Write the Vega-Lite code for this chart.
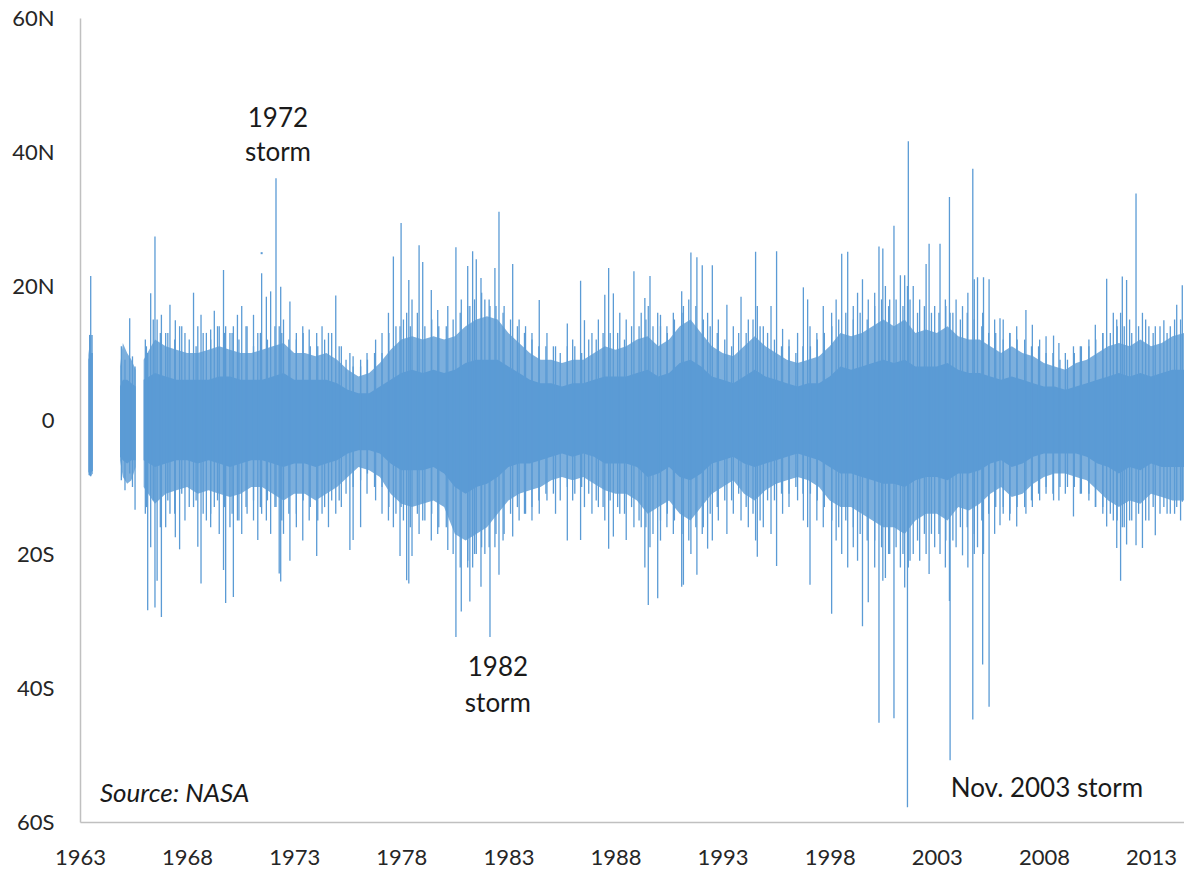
{
  "$schema": "https://vega.github.io/schema/vega-lite/v6.json",
  "width": 1104,
  "height": 804,
  "autosize": {"type": "none"},
  "padding": {"left": 80, "top": 18, "right": 0, "bottom": 47},
  "background": "white",
  "config": {"view": {"stroke": null}, "font": "Lato"},
  "datasets": {
    "env": [
      {"seg":"a","t":1963.39,"fh":9.7,"fl":-8.2,"ch":9,"cl":-7.8},
      {"seg":"a","t":1963.5,"fh":12.7,"fl":-8.4,"ch":10,"cl":-8},
      {"seg":"a","t":1963.6,"fh":12.7,"fl":-8,"ch":10,"cl":-7.5},
      {"seg":"b","t":1964.87,"fh":8,"fl":-6,"ch":5,"cl":-5.5},
      {"seg":"b","t":1965.0,"fh":11.5,"fl":-8.5,"ch":6,"cl":-6},
      {"seg":"b","t":1965.2,"fh":10,"fl":-9.5,"ch":6,"cl":-6.5},
      {"seg":"b","t":1965.4,"fh":9,"fl":-9,"ch":5.5,"cl":-6},
      {"seg":"b","t":1965.6,"fh":7.5,"fl":-7,"ch":5,"cl":-6},
      {"seg":"c","t":1965.97,"fh":9,"fl":-10,"ch":6,"cl":-6},
      {"seg":"c","t":1966.5,"fh":12,"fl":-12.5,"ch":7,"cl":-7},
      {"seg":"c","t":1967.0,"fh":11,"fl":-11,"ch":6.5,"cl":-6.5},
      {"seg":"c","t":1967.5,"fh":10.5,"fl":-10.5,"ch":6,"cl":-6},
      {"seg":"c","t":1968.0,"fh":10,"fl":-10,"ch":6,"cl":-6},
      {"seg":"c","t":1968.5,"fh":10,"fl":-11,"ch":6,"cl":-6.5},
      {"seg":"c","t":1969.0,"fh":10.5,"fl":-10.5,"ch":6,"cl":-6},
      {"seg":"c","t":1969.5,"fh":11,"fl":-11,"ch":6.5,"cl":-6.5},
      {"seg":"c","t":1970.0,"fh":10.5,"fl":-11.5,"ch":6.5,"cl":-7},
      {"seg":"c","t":1970.5,"fh":10,"fl":-11,"ch":6,"cl":-6.5},
      {"seg":"c","t":1971.0,"fh":10,"fl":-10,"ch":6,"cl":-6},
      {"seg":"c","t":1971.5,"fh":10.5,"fl":-10,"ch":6,"cl":-6},
      {"seg":"c","t":1972.0,"fh":11,"fl":-11,"ch":6.5,"cl":-6.5},
      {"seg":"c","t":1972.5,"fh":11.5,"fl":-12,"ch":7,"cl":-7},
      {"seg":"c","t":1973.0,"fh":10,"fl":-11,"ch":6,"cl":-6.5},
      {"seg":"c","t":1973.5,"fh":10,"fl":-11,"ch":6,"cl":-6.5},
      {"seg":"c","t":1974.0,"fh":9.5,"fl":-12,"ch":6,"cl":-7},
      {"seg":"c","t":1974.5,"fh":10,"fl":-11,"ch":6,"cl":-6.5},
      {"seg":"c","t":1975.0,"fh":9,"fl":-10,"ch":5.5,"cl":-6},
      {"seg":"c","t":1975.5,"fh":7.5,"fl":-8.5,"ch":4.5,"cl":-5},
      {"seg":"c","t":1976.0,"fh":6.5,"fl":-7,"ch":4,"cl":-4.5},
      {"seg":"c","t":1976.5,"fh":7,"fl":-7.5,"ch":4,"cl":-4.5},
      {"seg":"c","t":1977.0,"fh":8.5,"fl":-8.5,"ch":5,"cl":-5},
      {"seg":"c","t":1977.5,"fh":10.5,"fl":-11,"ch":6,"cl":-6.5},
      {"seg":"c","t":1978.0,"fh":12,"fl":-12.5,"ch":7,"cl":-7.5},
      {"seg":"c","t":1978.5,"fh":12.5,"fl":-13,"ch":7.5,"cl":-7.5},
      {"seg":"c","t":1979.0,"fh":12,"fl":-12.5,"ch":7,"cl":-7.5},
      {"seg":"c","t":1979.5,"fh":12.5,"fl":-12,"ch":7.5,"cl":-7},
      {"seg":"c","t":1980.0,"fh":12,"fl":-13,"ch":7,"cl":-8},
      {"seg":"c","t":1980.5,"fh":12.5,"fl":-17,"ch":7.5,"cl":-10},
      {"seg":"c","t":1981.0,"fh":14,"fl":-18,"ch":8.5,"cl":-11},
      {"seg":"c","t":1981.5,"fh":15,"fl":-17,"ch":9,"cl":-10},
      {"seg":"c","t":1982.0,"fh":15.5,"fl":-16,"ch":9,"cl":-9.5},
      {"seg":"c","t":1982.5,"fh":15,"fl":-14,"ch":9,"cl":-8.5},
      {"seg":"c","t":1983.0,"fh":13,"fl":-12,"ch":8,"cl":-7},
      {"seg":"c","t":1983.5,"fh":11.5,"fl":-11,"ch":7,"cl":-6.5},
      {"seg":"c","t":1984.0,"fh":10,"fl":-10.5,"ch":6,"cl":-6.5},
      {"seg":"c","t":1984.5,"fh":9,"fl":-10,"ch":5.5,"cl":-6},
      {"seg":"c","t":1985.0,"fh":9,"fl":-9,"ch":5.5,"cl":-5.5},
      {"seg":"c","t":1985.5,"fh":8.5,"fl":-8.5,"ch":5,"cl":-5},
      {"seg":"c","t":1986.0,"fh":9,"fl":-9,"ch":5.5,"cl":-5.5},
      {"seg":"c","t":1986.5,"fh":9,"fl":-8.5,"ch":5.5,"cl":-5},
      {"seg":"c","t":1987.0,"fh":10,"fl":-9.5,"ch":6,"cl":-5.5},
      {"seg":"c","t":1987.5,"fh":11,"fl":-10.5,"ch":6.5,"cl":-6.5},
      {"seg":"c","t":1988.0,"fh":10.5,"fl":-11,"ch":6.5,"cl":-6.5},
      {"seg":"c","t":1988.5,"fh":11,"fl":-11,"ch":6.5,"cl":-6.5},
      {"seg":"c","t":1989.0,"fh":12,"fl":-12,"ch":7,"cl":-7},
      {"seg":"c","t":1989.5,"fh":12.5,"fl":-14,"ch":7.5,"cl":-8.5},
      {"seg":"c","t":1990.0,"fh":11,"fl":-13,"ch":6.5,"cl":-8},
      {"seg":"c","t":1990.5,"fh":12,"fl":-12,"ch":7,"cl":-7},
      {"seg":"c","t":1991.0,"fh":14,"fl":-14,"ch":8.5,"cl":-8.5},
      {"seg":"c","t":1991.5,"fh":15,"fl":-15,"ch":9,"cl":-9},
      {"seg":"c","t":1992.0,"fh":13,"fl":-13,"ch":8,"cl":-8},
      {"seg":"c","t":1992.5,"fh":11,"fl":-11,"ch":6.5,"cl":-6.5},
      {"seg":"c","t":1993.0,"fh":10,"fl":-10,"ch":6,"cl":-6},
      {"seg":"c","t":1993.5,"fh":9.5,"fl":-9,"ch":5.5,"cl":-5.5},
      {"seg":"c","t":1994.0,"fh":11,"fl":-11,"ch":6.5,"cl":-6.5},
      {"seg":"c","t":1994.5,"fh":12.5,"fl":-12,"ch":7.5,"cl":-7},
      {"seg":"c","t":1995.0,"fh":11,"fl":-10.5,"ch":6.5,"cl":-6.5},
      {"seg":"c","t":1995.5,"fh":10,"fl":-9.5,"ch":6,"cl":-6},
      {"seg":"c","t":1996.0,"fh":9,"fl":-9,"ch":5.5,"cl":-5.5},
      {"seg":"c","t":1996.5,"fh":8.5,"fl":-8.5,"ch":5,"cl":-5},
      {"seg":"c","t":1997.0,"fh":9,"fl":-9,"ch":5.5,"cl":-5.5},
      {"seg":"c","t":1997.5,"fh":9.5,"fl":-10,"ch":5.5,"cl":-6},
      {"seg":"c","t":1998.0,"fh":11,"fl":-12,"ch":6.5,"cl":-7},
      {"seg":"c","t":1998.5,"fh":13,"fl":-13,"ch":8,"cl":-8},
      {"seg":"c","t":1999.0,"fh":12.5,"fl":-13,"ch":7.5,"cl":-8},
      {"seg":"c","t":1999.5,"fh":13,"fl":-14,"ch":8,"cl":-8.5},
      {"seg":"c","t":2000.0,"fh":14,"fl":-15,"ch":8.5,"cl":-9},
      {"seg":"c","t":2000.5,"fh":15,"fl":-16,"ch":9,"cl":-9.5},
      {"seg":"c","t":2001.0,"fh":14,"fl":-16,"ch":8.5,"cl":-9.5},
      {"seg":"c","t":2001.5,"fh":15,"fl":-17,"ch":9,"cl":-10},
      {"seg":"c","t":2002.0,"fh":13,"fl":-15,"ch":8,"cl":-9},
      {"seg":"c","t":2002.5,"fh":13.5,"fl":-14,"ch":8,"cl":-8.5},
      {"seg":"c","t":2003.0,"fh":13,"fl":-14,"ch":8,"cl":-8.5},
      {"seg":"c","t":2003.5,"fh":14,"fl":-15,"ch":8.5,"cl":-9},
      {"seg":"c","t":2004.0,"fh":12.5,"fl":-13,"ch":7.5,"cl":-8},
      {"seg":"c","t":2004.5,"fh":12,"fl":-13.5,"ch":7,"cl":-8},
      {"seg":"c","t":2005.0,"fh":12,"fl":-12.5,"ch":7,"cl":-7.5},
      {"seg":"c","t":2005.5,"fh":11,"fl":-11,"ch":6.5,"cl":-6.5},
      {"seg":"c","t":2006.0,"fh":10,"fl":-10,"ch":6,"cl":-6},
      {"seg":"c","t":2006.5,"fh":11,"fl":-11.5,"ch":6.5,"cl":-7},
      {"seg":"c","t":2007.0,"fh":10,"fl":-11,"ch":6,"cl":-6.5},
      {"seg":"c","t":2007.5,"fh":9.5,"fl":-9.5,"ch":5.5,"cl":-5.5},
      {"seg":"c","t":2008.0,"fh":8.5,"fl":-8.5,"ch":5,"cl":-5},
      {"seg":"c","t":2008.5,"fh":8,"fl":-8,"ch":5,"cl":-5},
      {"seg":"c","t":2009.0,"fh":7.5,"fl":-8,"ch":4.5,"cl":-5},
      {"seg":"c","t":2009.5,"fh":8.5,"fl":-8.5,"ch":5,"cl":-5},
      {"seg":"c","t":2010.0,"fh":9,"fl":-9,"ch":5.5,"cl":-5.5},
      {"seg":"c","t":2010.5,"fh":10,"fl":-10.5,"ch":6,"cl":-6.5},
      {"seg":"c","t":2011.0,"fh":11,"fl":-12,"ch":6.5,"cl":-7},
      {"seg":"c","t":2011.5,"fh":11.5,"fl":-13,"ch":7,"cl":-8},
      {"seg":"c","t":2012.0,"fh":11,"fl":-12,"ch":6.5,"cl":-7},
      {"seg":"c","t":2012.5,"fh":12,"fl":-12.5,"ch":7,"cl":-7.5},
      {"seg":"c","t":2013.0,"fh":11,"fl":-11,"ch":6.5,"cl":-6.5},
      {"seg":"c","t":2013.5,"fh":11.5,"fl":-11.5,"ch":7,"cl":-7},
      {"seg":"c","t":2014.0,"fh":12.5,"fl":-12,"ch":7.5,"cl":-7},
      {"seg":"c","t":2014.55,"fh":13,"fl":-12,"ch":7.5,"cl":-7}
    ],
    "spk": [
      {"t":1963.45,"h":12.7,"l":-8.2},{"t":1963.5,"h":21.5,"l":-8.4},
      {"t":1964.93,"h":11,"l":-9},{"t":1965.1,"h":9,"l":-10.5},{"t":1965.32,"h":15.2,"l":-8},{"t":1965.45,"h":9.5,"l":-10},{"t":1965.57,"h":8,"l":-13.4},
      {"t":1966.05,"h":12,"l":-14},{"t":1966.16,"h":10,"l":-28.4},{"t":1966.3,"h":18.9,"l":-19},{"t":1966.5,"h":27.4,"l":-28},{"t":1966.6,"h":15,"l":-24},{"t":1966.8,"h":15.7,"l":-29.4},
      {"t":1967.0,"h":13,"l":-16},{"t":1967.2,"h":17.2,"l":-14},{"t":1967.45,"h":14.9,"l":-17.5},{"t":1967.65,"h":14,"l":-19.3},{"t":1967.9,"h":13,"l":-15},
      {"t":1968.3,"h":19,"l":-13},{"t":1968.5,"h":14,"l":-18.9},{"t":1968.65,"h":15.7,"l":-24.4},{"t":1968.9,"h":13,"l":-15},
      {"t":1969.1,"h":13.5,"l":-16},{"t":1969.27,"h":16.3,"l":-13},{"t":1969.5,"h":14,"l":-17},{"t":1969.7,"h":22.4,"l":-22.4},{"t":1969.8,"h":14,"l":-27.3},
      {"t":1970.0,"h":13,"l":-16},{"t":1970.16,"h":14,"l":-26.4},{"t":1970.35,"h":15.7,"l":-15},{"t":1970.55,"h":17,"l":-17},{"t":1970.8,"h":14,"l":-14},
      {"t":1971.1,"h":15.7,"l":-15},{"t":1971.3,"h":13,"l":-17.9},{"t":1971.48,"h":21.9,"l":-14},{"t":1971.7,"h":18.4,"l":-15},{"t":1971.9,"h":19.2,"l":-17},
      {"t":1972.15,"h":36.1,"l":-13},{"t":1972.3,"h":14,"l":-22.9},{"t":1972.37,"h":19.9,"l":-24.1},{"t":1972.5,"h":15,"l":-17},{"t":1972.8,"h":17.7,"l":-21},
      {"t":1973.1,"h":13,"l":-16},{"t":1973.4,"h":14,"l":-18},{"t":1973.7,"h":13.5,"l":-15},
      {"t":1974.05,"h":13,"l":-20.3},{"t":1974.3,"h":14,"l":-14},{"t":1974.6,"h":13,"l":-16},{"t":1974.94,"h":18.6,"l":-14},
      {"t":1975.2,"h":11,"l":-13},{"t":1975.6,"h":10,"l":-19.4},{"t":1975.75,"h":9.5,"l":-17.9},
      {"t":1976.1,"h":9,"l":-16},{"t":1976.4,"h":10,"l":-11},{"t":1976.8,"h":12,"l":-12},
      {"t":1977.1,"h":13,"l":-14},{"t":1977.4,"h":16,"l":-15},{"t":1977.63,"h":24.4,"l":-16},{"t":1977.94,"h":14,"l":-20.3},{"t":1977.99,"h":29.4,"l":-13},
      {"t":1978.25,"h":16,"l":-23.9},{"t":1978.35,"h":20.9,"l":-24.4},{"t":1978.5,"h":18,"l":-20.3},{"t":1978.83,"h":26.1,"l":-17},
      {"t":1979.0,"h":23.6,"l":-15},{"t":1979.4,"h":19.4,"l":-18},{"t":1979.7,"h":16.4,"l":-17},
      {"t":1980.17,"h":17,"l":-19.4},{"t":1980.55,"h":25.8,"l":-32.4},{"t":1980.8,"h":18,"l":-28.6},
      {"t":1981.1,"h":23,"l":-22},{"t":1981.2,"h":17,"l":-27.1},{"t":1981.33,"h":25.2,"l":-22},{"t":1981.5,"h":24,"l":-20},{"t":1981.72,"h":21.2,"l":-24.9},{"t":1981.9,"h":18,"l":-20},
      {"t":1982.14,"h":17,"l":-32.4},{"t":1982.37,"h":22.7,"l":-19},{"t":1982.56,"h":31.1,"l":-23.1},{"t":1982.8,"h":17,"l":-17},
      {"t":1983.2,"h":23.3,"l":-17.4},{"t":1983.5,"h":15,"l":-15},{"t":1983.8,"h":14,"l":-14},
      {"t":1984.1,"h":13,"l":-15},{"t":1984.44,"h":17.9,"l":-14},{"t":1984.8,"h":13,"l":-12},
      {"t":1985.2,"h":11,"l":-14},{"t":1985.75,"h":14.4,"l":-18},
      {"t":1986.0,"h":12,"l":-12},{"t":1986.37,"h":20.8,"l":-17.9},{"t":1986.55,"h":14.9,"l":-13},{"t":1986.9,"h":13,"l":-14},
      {"t":1987.2,"h":15,"l":-13},{"t":1987.5,"h":18.7,"l":-15},{"t":1987.68,"h":22.7,"l":-19.2},{"t":1987.9,"h":18.9,"l":-17.4},
      {"t":1988.2,"h":16,"l":-14},{"t":1988.5,"h":15,"l":-17.9},{"t":1988.86,"h":22.2,"l":-16},
      {"t":1989.2,"h":16,"l":-16},{"t":1989.37,"h":18.2,"l":-22},{"t":1989.53,"h":17,"l":-27.6},{"t":1989.61,"h":21.5,"l":-19},{"t":1989.97,"h":16,"l":-26.6},
      {"t":1990.1,"h":15.7,"l":-18},{"t":1990.4,"h":14,"l":-16},{"t":1990.7,"h":16,"l":-17},
      {"t":1991.09,"h":19.2,"l":-24.9},{"t":1991.17,"h":17,"l":-24.6},{"t":1991.52,"h":25,"l":-20},{"t":1991.8,"h":24.3,"l":-23.1},
      {"t":1992.05,"h":23.1,"l":-17},{"t":1992.3,"h":16,"l":-19.2},{"t":1992.52,"h":23.1,"l":-18},{"t":1992.8,"h":15,"l":-15},
      {"t":1993.2,"h":17.2,"l":-17},{"t":1993.5,"h":14,"l":-14},{"t":1993.86,"h":18.4,"l":-15},
      {"t":1994.2,"h":15,"l":-16},{"t":1994.54,"h":25.1,"l":-18},{"t":1994.62,"h":17,"l":-20.4},{"t":1994.9,"h":14,"l":-16},
      {"t":1995.26,"h":17,"l":-17},{"t":1995.52,"h":25.2,"l":-21.8},{"t":1995.8,"h":13.6,"l":-14},
      {"t":1996.1,"h":12,"l":-13},{"t":1996.5,"h":13,"l":-12},{"t":1996.77,"h":19.8,"l":-15},{"t":1996.97,"h":18,"l":-16},
      {"t":1997.08,"h":14,"l":-24.6},{"t":1997.4,"h":13,"l":-15},{"t":1997.7,"h":17,"l":-16},
      {"t":1998.09,"h":16,"l":-28.9},{"t":1998.3,"h":18,"l":-18},{"t":1998.56,"h":24.8,"l":-20},{"t":1998.84,"h":25.1,"l":-22},
      {"t":1999.1,"h":17,"l":-19},{"t":1999.3,"h":19,"l":-21},{"t":1999.53,"h":21,"l":-30.8},{"t":1999.8,"h":18,"l":-27.2},
      {"t":2000.1,"h":19,"l":-22},{"t":2000.3,"h":25.9,"l":-45.2},{"t":2000.48,"h":25.6,"l":-24},{"t":2000.6,"h":20,"l":-23.6},{"t":2000.8,"h":18,"l":-20},
      {"t":2001.0,"h":29,"l":-44.5},{"t":2001.3,"h":21.6,"l":-22},{"t":2001.5,"h":21.6,"l":-25},{"t":2001.63,"h":20,"l":-57.8},{"t":2001.67,"h":41.6,"l":-22},{"t":2001.9,"h":20,"l":-20},
      {"t":2002.2,"h":18,"l":-21},{"t":2002.5,"h":23.3,"l":-20},{"t":2002.64,"h":26.3,"l":-23},{"t":2002.9,"h":17,"l":-19},
      {"t":2003.15,"h":26.3,"l":-20},{"t":2003.4,"h":18,"l":-22},{"t":2003.59,"h":33.3,"l":-27},{"t":2003.62,"h":16,"l":-50.8},{"t":2003.9,"h":18,"l":-19},
      {"t":2004.2,"h":17,"l":-20.2},{"t":2004.45,"h":19,"l":-22},{"t":2004.68,"h":37.5,"l":-44.7},{"t":2004.75,"h":21,"l":-20},{"t":2004.9,"h":21.3,"l":-19},
      {"t":2005.14,"h":16,"l":-36.5},{"t":2005.18,"h":21.3,"l":-20},{"t":2005.44,"h":21,"l":-42.8},{"t":2005.7,"h":15,"l":-17},{"t":2005.95,"h":15.2,"l":-15.7},
      {"t":2006.1,"h":15,"l":-14},{"t":2006.4,"h":13,"l":-15},{"t":2006.73,"h":14,"l":-15.9},
      {"t":2007.16,"h":16.4,"l":-14},{"t":2007.46,"h":14.2,"l":-13},{"t":2007.8,"h":12,"l":-12},
      {"t":2008.1,"h":12.5,"l":-11},{"t":2008.45,"h":12.6,"l":-12},{"t":2008.7,"h":11.5,"l":-12},
      {"t":2009.0,"h":10,"l":-11},{"t":2009.38,"h":11,"l":-14.4},{"t":2009.7,"h":11,"l":-11},
      {"t":2010.1,"h":12,"l":-12},{"t":2010.4,"h":14.2,"l":-13},{"t":2010.75,"h":13,"l":-14},{"t":2010.93,"h":21.1,"l":-15.9},
      {"t":2011.24,"h":16,"l":-15},{"t":2011.4,"h":15,"l":-19.1},{"t":2011.58,"h":16,"l":-24},{"t":2011.66,"h":21.4,"l":-16},{"t":2011.86,"h":20.9,"l":-18.6},
      {"t":2012.0,"h":15,"l":-15},{"t":2012.3,"h":33.8,"l":-18.7},{"t":2012.6,"h":16,"l":-19.1},{"t":2012.9,"h":14,"l":-15},
      {"t":2013.2,"h":14,"l":-17.2},{"t":2013.6,"h":14.9,"l":-13},{"t":2013.9,"h":14,"l":-14},
      {"t":2014.2,"h":17.2,"l":-13},{"t":2014.46,"h":20.1,"l":-12.2},
      {"t":1966.1,"h":11,"l":-13},{"t":1966.42,"h":15,"l":-12},{"t":1966.75,"h":13,"l":-16},
      {"t":1967.1,"h":13,"l":-12},{"t":1967.42,"h":12,"l":-14},{"t":1967.75,"h":14,"l":-11},
      {"t":1968.1,"h":12,"l":-13},{"t":1968.42,"h":11,"l":-12},{"t":1968.75,"h":13,"l":-14},
      {"t":1969.1,"h":12,"l":-14},{"t":1969.42,"h":14,"l":-12},{"t":1969.75,"h":13,"l":-13},
      {"t":1970.1,"h":13,"l":-14},{"t":1970.42,"h":12,"l":-15},{"t":1970.75,"h":14,"l":-13},
      {"t":1971.1,"h":11,"l":-12},{"t":1971.42,"h":13,"l":-13},{"t":1971.75,"h":12,"l":-12},
      {"t":1972.1,"h":14,"l":-13},{"t":1972.42,"h":13,"l":-15},{"t":1972.75,"h":12,"l":-14},
      {"t":1973.1,"h":12,"l":-14},{"t":1973.42,"h":13,"l":-12},{"t":1973.75,"h":11,"l":-13},
      {"t":1974.1,"h":11,"l":-15},{"t":1974.42,"h":12,"l":-13},{"t":1974.75,"h":13,"l":-12},
      {"t":1975.1,"h":11,"l":-12},{"t":1975.42,"h":9,"l":-11},{"t":1975.75,"h":8,"l":-10},
      {"t":1976.1,"h":8,"l":-9},{"t":1976.42,"h":9,"l":-8},{"t":1976.75,"h":10,"l":-10},
      {"t":1977.1,"h":10,"l":-10},{"t":1977.42,"h":13,"l":-13},{"t":1977.75,"h":14,"l":-14},
      {"t":1978.1,"h":15,"l":-15},{"t":1978.42,"h":14,"l":-16},{"t":1978.75,"h":16,"l":-14},
      {"t":1979.1,"h":14,"l":-15},{"t":1979.42,"h":15,"l":-14},{"t":1979.75,"h":14,"l":-16},
      {"t":1980.1,"h":14,"l":-16},{"t":1980.42,"h":15,"l":-20},{"t":1980.75,"h":16,"l":-22},
      {"t":1981.1,"h":17,"l":-21},{"t":1981.42,"h":18,"l":-20},{"t":1981.75,"h":19,"l":-19},
      {"t":1982.1,"h":18,"l":-19},{"t":1982.42,"h":17,"l":-17},{"t":1982.75,"h":16,"l":-18},
      {"t":1983.1,"h":15,"l":-14},{"t":1983.42,"h":14,"l":-13},{"t":1983.75,"h":13,"l":-14},
      {"t":1984.1,"h":12,"l":-13},{"t":1984.42,"h":11,"l":-12},{"t":1984.75,"h":11,"l":-11},
      {"t":1985.1,"h":11,"l":-11},{"t":1985.42,"h":10,"l":-12},{"t":1985.75,"h":11,"l":-10},
      {"t":1986.1,"h":11,"l":-11},{"t":1986.42,"h":10,"l":-10},{"t":1986.75,"h":12,"l":-11},
      {"t":1987.1,"h":12,"l":-12},{"t":1987.42,"h":13,"l":-13},{"t":1987.75,"h":13,"l":-12},
      {"t":1988.1,"h":13,"l":-13},{"t":1988.42,"h":12,"l":-14},{"t":1988.75,"h":14,"l":-13},
      {"t":1989.1,"h":14,"l":-15},{"t":1989.42,"h":15,"l":-16},{"t":1989.75,"h":14,"l":-17},
      {"t":1990.1,"h":14,"l":-15},{"t":1990.42,"h":13,"l":-14},{"t":1990.75,"h":15,"l":-15},
      {"t":1991.1,"h":16,"l":-17},{"t":1991.42,"h":18,"l":-18},{"t":1991.75,"h":17,"l":-16},
      {"t":1992.1,"h":15,"l":-16},{"t":1992.42,"h":14,"l":-14},{"t":1992.75,"h":13,"l":-13},
      {"t":1993.1,"h":12,"l":-12},{"t":1993.42,"h":11,"l":-12},{"t":1993.75,"h":13,"l":-11},
      {"t":1994.1,"h":13,"l":-13},{"t":1994.42,"h":15,"l":-14},{"t":1994.75,"h":14,"l":-15},
      {"t":1995.1,"h":13,"l":-12},{"t":1995.42,"h":12,"l":-12},{"t":1995.75,"h":11,"l":-11},
      {"t":1996.1,"h":11,"l":-11},{"t":1996.42,"h":10,"l":-10},{"t":1996.75,"h":11,"l":-11},
      {"t":1997.1,"h":11,"l":-11},{"t":1997.42,"h":12,"l":-12},{"t":1997.75,"h":13,"l":-13},
      {"t":1998.1,"h":14,"l":-15},{"t":1998.42,"h":15,"l":-16},{"t":1998.75,"h":16,"l":-15},
      {"t":1999.1,"h":15,"l":-16},{"t":1999.42,"h":16,"l":-17},{"t":1999.75,"h":15,"l":-18},
      {"t":2000.1,"h":17,"l":-18},{"t":2000.42,"h":18,"l":-19},{"t":2000.75,"h":17,"l":-20},
      {"t":2001.1,"h":18,"l":-19},{"t":2001.42,"h":17,"l":-20},{"t":2001.75,"h":18,"l":-21},
      {"t":2002.1,"h":16,"l":-18},{"t":2002.42,"h":17,"l":-17},{"t":2002.75,"h":16,"l":-17},
      {"t":2003.1,"h":16,"l":-17},{"t":2003.42,"h":17,"l":-18},{"t":2003.75,"h":16,"l":-18},
      {"t":2004.1,"h":15,"l":-16},{"t":2004.42,"h":16,"l":-16},{"t":2004.75,"h":15,"l":-17},
      {"t":2005.1,"h":14,"l":-15},{"t":2005.42,"h":13,"l":-14},{"t":2005.75,"h":13,"l":-13},
      {"t":2006.1,"h":12,"l":-13},{"t":2006.42,"h":13,"l":-14},{"t":2006.75,"h":12,"l":-13},
      {"t":2007.1,"h":12,"l":-13},{"t":2007.42,"h":11,"l":-12},{"t":2007.75,"h":11,"l":-11},
      {"t":2008.1,"h":10,"l":-10},{"t":2008.42,"h":10,"l":-11},{"t":2008.75,"h":9,"l":-10},
      {"t":2009.1,"h":9,"l":-10},{"t":2009.42,"h":10,"l":-10},{"t":2009.75,"h":11,"l":-11},
      {"t":2010.1,"h":11,"l":-11},{"t":2010.42,"h":12,"l":-13},{"t":2010.75,"h":13,"l":-13},
      {"t":2011.1,"h":13,"l":-14},{"t":2011.42,"h":14,"l":-15},{"t":2011.75,"h":14,"l":-16},
      {"t":2012.1,"h":13,"l":-15},{"t":2012.42,"h":14,"l":-14},{"t":2012.75,"h":15,"l":-15},
      {"t":2013.1,"h":13,"l":-13},{"t":2013.42,"h":14,"l":-14},{"t":2013.75,"h":13,"l":-14},
      {"t":2014.1,"h":15,"l":-14},{"t":2014.38,"h":15,"l":-15}
    ],
    "dots": [
      {"t":1971.48,"v":24.9}
    ],
    "notes": [
      {"t":1972.24,"v":45.0,"txt":"1972"},
      {"t":1972.24,"v":39.8,"txt":"storm"},
      {"t":1982.51,"v":-37.0,"txt":"1982"},
      {"t":1982.51,"v":-42.4,"txt":"storm"},
      {"t":2008.14,"v":-55.1,"txt":"Nov. 2003 storm"}
    ],
    "src": [
      {"t":1963.93,"v":-55.8,"txt":"Source: NASA"}
    ]
  },
  "layer": [
    {
      "data": {"name": "env"},
      "mark": {"type": "area", "color": "#5B9BD5", "opacity": 0.8, "clip": true},
      "encoding": {
        "x": {"field": "t", "type": "quantitative", "title": null,
              "scale": {"domain": [1963, 2014.54], "nice": false, "zero": false},
              "axis": {"values": [1963,1968,1973,1978,1983,1988,1993,1998,2003,2008,2013], "format": "d",
                       "ticks": false, "grid": false, "labelPadding": 25, "labelFlush": false,
                       "labelFontSize": 22, "labelColor": "#262626", "labelFont": "Lato",
                       "domainColor": "#C0C0C0", "domainWidth": 1.5}},
        "y": {"field": "fl", "type": "quantitative", "title": null,
              "scale": {"domain": [-60, 60], "nice": false, "zero": false},
              "axis": {"values": [-60,-40,-20,0,20,40,60],
                       "labelExpr": "datum.value > 0 ? datum.value + 'N' : (datum.value < 0 ? (-datum.value) + 'S' : '0')",
                       "ticks": false, "grid": false, "labelPadding": 26,
                       "labelFontSize": 22, "labelColor": "#262626", "labelFont": "Lato",
                       "domainColor": "#C0C0C0", "domainWidth": 1.5}},
        "y2": {"field": "fh"},
        "detail": {"field": "seg"}
      }
    },
    {
      "data": {"name": "env"},
      "mark": {"type": "area", "color": "#5B9BD5", "clip": true},
      "encoding": {
        "x": {"field": "t", "type": "quantitative", "title": null},
        "y": {"field": "cl", "type": "quantitative", "title": null},
        "y2": {"field": "ch"},
        "detail": {"field": "seg"}
      }
    },
    {
      "data": {"name": "spk"},
      "mark": {"type": "rule", "color": "#5B9BD5", "strokeWidth": 1.3, "clip": true},
      "encoding": {
        "x": {"field": "t", "type": "quantitative", "title": null},
        "y": {"field": "l", "type": "quantitative", "title": null},
        "y2": {"field": "h"}
      }
    },
    {
      "data": {"name": "dots"},
      "mark": {"type": "square", "color": "#5B9BD5", "size": 4, "opacity": 1},
      "encoding": {
        "x": {"field": "t", "type": "quantitative", "title": null},
        "y": {"field": "v", "type": "quantitative", "title": null}
      }
    },
    {
      "data": {"name": "notes"},
      "mark": {"type": "text", "font": "Lato", "fontSize": 26, "color": "#1a1a1a", "align": "center", "baseline": "middle"},
      "encoding": {
        "x": {"field": "t", "type": "quantitative", "title": null},
        "y": {"field": "v", "type": "quantitative", "title": null},
        "text": {"field": "txt"}
      }
    },
    {
      "data": {"name": "src"},
      "mark": {"type": "text", "font": "Lato", "fontSize": 26, "fontStyle": "italic", "color": "#1a1a1a", "align": "left", "baseline": "middle"},
      "encoding": {
        "x": {"field": "t", "type": "quantitative", "title": null},
        "y": {"field": "v", "type": "quantitative", "title": null},
        "text": {"field": "txt"}
      }
    }
  ]
}
